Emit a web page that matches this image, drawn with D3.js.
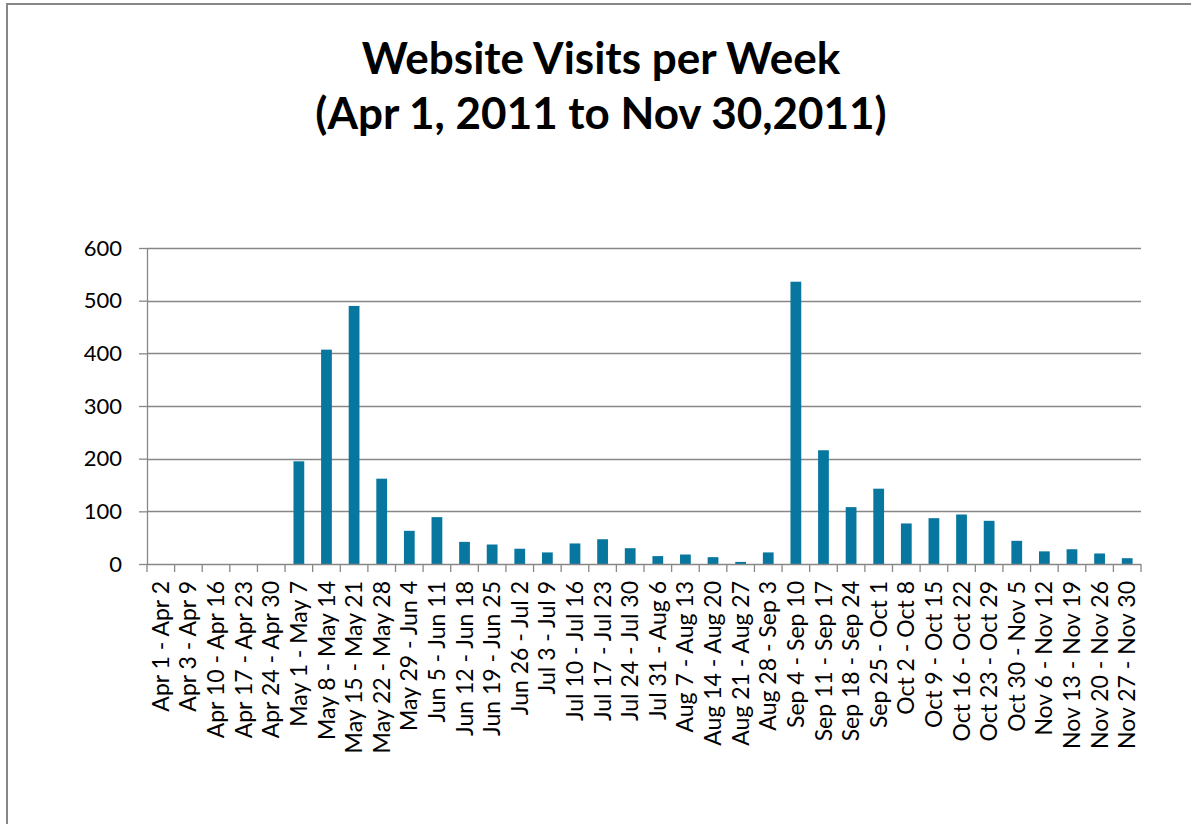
<!DOCTYPE html>
<html>
<head>
<meta charset="utf-8">
<script src="https://cdn.jsdelivr.net/npm/d3@7"></script>
<style>
    body { margin: 0; background: #fff; }
    svg { display: block; font-family: Lato, "Open Sans", sans-serif; }
</style>
</head>
<body>
<div id="chart"></div>
<script>
// weekly ranges (x axis)
var weeks = ["Apr 1 - Apr 2", "Apr 3 - Apr 9", "Apr 10 - Apr 16", "Apr 17 - Apr 23", "Apr 24 - Apr 30",
    "May 1 - May 7", "May 8 - May 14", "May 15 - May 21", "May 22 - May 28", "May 29 - Jun 4",
    "Jun 5 - Jun 11", "Jun 12 - Jun 18", "Jun 19 - Jun 25", "Jun 26 - Jul 2", "Jul 3 - Jul 9",
    "Jul 10 - Jul 16", "Jul 17 - Jul 23", "Jul 24 - Jul 30", "Jul 31 - Aug 6", "Aug 7 - Aug 13",
    "Aug 14 - Aug 20", "Aug 21 - Aug 27", "Aug 28 - Sep 3", "Sep 4 - Sep 10", "Sep 11 - Sep 17",
    "Sep 18 - Sep 24", "Sep 25 - Oct 1", "Oct 2 - Oct 8", "Oct 9 - Oct 15", "Oct 16 - Oct 22",
    "Oct 23 - Oct 29", "Oct 30 - Nov 5", "Nov 6 - Nov 12", "Nov 13 - Nov 19", "Nov 20 - Nov 26",
    "Nov 27 - Nov 30"];

// visits per week
var visits = [0, 0, 0, 0, 0,
    195, 407, 490, 162, 63,
    89, 42, 37, 29, 22,
    39, 47, 30, 15, 18,
    13, 4, 22, 536, 216,
    108, 143, 77, 87, 94,
    82, 44, 24, 28, 20,
    11];

var yTicks = [0, 100, 200, 300, 400, 500, 600];
var titleLines = ["Website Visits per Week", "(Apr 1, 2011 to Nov 30,2011)"];

var W = 1191, H = 824;
var margin = {top: 248, right: 50, bottom: 260, left: 147};
var width = 1141 - margin.left;
var height = 564 - margin.top;

var svg = d3.select("#chart").append("svg")
    .attr("width", W)
    .attr("height", H);

// chart frame (right and bottom edges fall outside the picture)
svg.append("rect")
    .attr("x", 7).attr("y", 4)
    .attr("width", W + 20).attr("height", H + 20)
    .attr("fill", "#fff")
    .attr("stroke", "#878787")
    .attr("stroke-width", 2);

// title
svg.append("g").selectAll("text")
    .data(titleLines)
    .enter().append("text")
    .attr("x", 601)
    .attr("y", function(d, i) { return 74 + i * 55; })
    .attr("text-anchor", "middle")
    .style("font-weight", "bold")
    .style("font-size", "44px")
    .style("fill", "#000")
    .text(function(d) { return d; });

var g = svg.append("g")
    .attr("transform", "translate(" + margin.left + "," + margin.top + ")");

var x = d3.scaleBand()
    .domain(weeks)
    .range([0, width])
    .paddingInner(0.61)
    .paddingOuter(0.305);

var y = d3.scaleLinear()
    .domain([0, 600])
    .range([height, 0]);

// gridlines
g.append("g")
    .selectAll("line")
    .data(yTicks.slice(1))
    .enter().append("line")
    .attr("x1", 0).attr("x2", width)
    .attr("y1", function(d) { return Math.round(y(d)) + 0.5; })
    .attr("y2", function(d) { return Math.round(y(d)) + 0.5; })
    .attr("stroke", "#878787")
    .attr("stroke-width", 1.3);

// bars
g.selectAll(".bar")
    .data(visits)
    .enter().append("rect")
    .attr("class", "bar")
    .attr("x", function(d, i) { return x(weeks[i]); })
    .attr("width", x.bandwidth())
    .attr("y", function(d) { return y(d); })
    .attr("height", function(d) { return height - y(d); })
    .attr("fill", "#07779f");

// y axis
var yAxis = g.append("g")
    .call(d3.axisLeft(y).tickValues(yTicks).tickSize(8).tickPadding(17).tickSizeOuter(0));
yAxis.selectAll("line").attr("stroke", "#878787").attr("stroke-width", 1.3);
yAxis.select(".domain").attr("stroke", "#878787").attr("stroke-width", 1.3);
yAxis.selectAll("text")
    .style("font-family", "Lato, sans-serif")
    .style("font-size", "22px")
    .style("fill", "#000");

// x axis: ticks sit between the categories
var step = x.step();
var xAxis = g.append("g")
    .attr("transform", "translate(0," + height + ")");
xAxis.append("line")
    .attr("x1", 0).attr("x2", width)
    .attr("y1", 0.5).attr("y2", 0.5)
    .attr("stroke", "#878787")
    .attr("stroke-width", 1.3);
xAxis.selectAll(".tick")
    .data(d3.range(weeks.length + 1))
    .enter().append("line")
    .attr("class", "tick")
    .attr("x1", function(d) { return d * step; })
    .attr("x2", function(d) { return d * step; })
    .attr("y1", 0).attr("y2", 8)
    .attr("stroke", "#878787")
    .attr("stroke-width", 1.3);

xAxis.selectAll(".label")
    .data(weeks)
    .enter().append("text")
    .attr("class", "label")
    .attr("transform", function(d) {
        return "translate(" + (x(d) + x.bandwidth() / 2) + ",17) rotate(-90)";
    })
    .attr("dy", "0.35em")
    .attr("text-anchor", "end")
    .style("font-size", "23px")
    .style("fill", "#000")
    .text(function(d) { return d; });
</script>
</body>
</html>
